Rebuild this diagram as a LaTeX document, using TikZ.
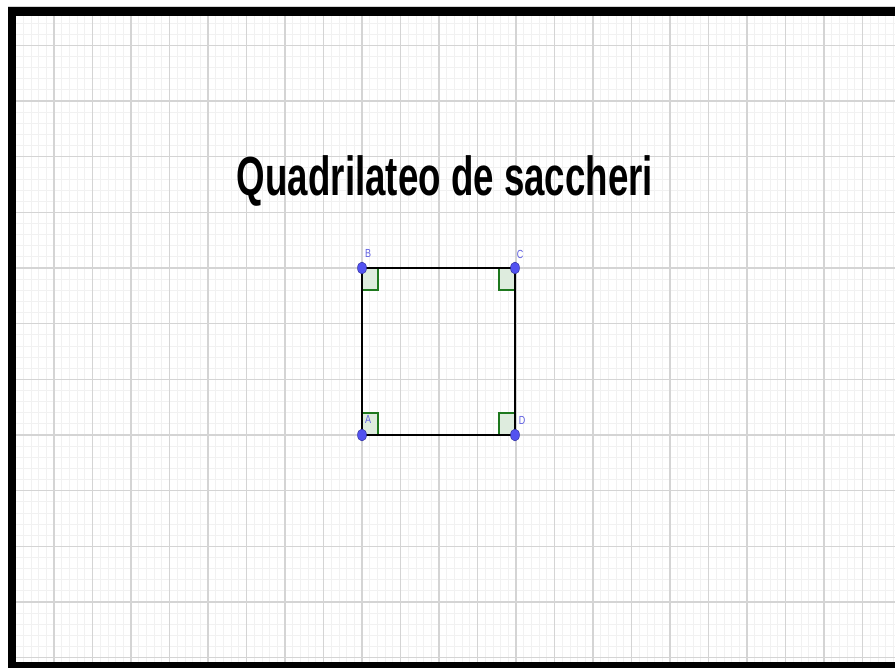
\documentclass[tikz,border=0pt]{standalone}
\usepackage{fontspec}
\setmainfont{Liberation Sans}
\usetikzlibrary{shapes.geometric}
\definecolor{minorgrid}{RGB}{241,241,241}
\definecolor{majorgrid}{RGB}{212,212,212}
\definecolor{ptblue}{RGB}{82,82,240}
\definecolor{ptedge}{RGB}{40,40,150}
\definecolor{lblblue}{RGB}{95,95,225}
\definecolor{angfill}{RGB}{222,236,222}
\definecolor{angedge}{RGB}{30,120,30}
\begin{document}
\begin{tikzpicture}[x=1pt,y=-1pt,
  minorline/.style={draw=minorgrid,line width=0.8pt},
  majorline/.style={draw=majorgrid,line width=1.1pt},
  frame/.style={fill=black},
  pt/.style={ellipse,fill=ptblue,draw=ptedge,line width=0.4pt,inner sep=0pt,minimum width=9pt,minimum height=12pt},
  lbl/.style={text=lblblue,inner sep=0pt,font=\fontsize{9}{10}\selectfont},
  side/.style={draw=black,line width=1.4pt},
  ang/.style={fill=angfill,draw=angedge,line width=1.1pt}]
\useasboundingbox (0,0) rectangle (895,668);
\fill[white] (0,0) rectangle (895,668);
% grid
\begin{scope}
\clip (15,16) rectangle (895,662);
\foreach \i in {0,...,116} {\draw[minorline] ({15.5+7.7*\i},0) -- ({15.5+7.7*\i},668);}
\foreach \j in {0,...,62} {\draw[minorline] (0,{-10.34+11.134*\j}) -- (895,{-10.34+11.134*\j});}
\foreach \i in {0,...,23} {\draw[majorline] ({15.5+38.5*\i},0) -- ({15.5+38.5*\i},668);}
\foreach \j in {0,...,12} {\draw[majorline] (0,{-10.34+55.67*\j}) -- (895,{-10.34+55.67*\j});}
\end{scope}
% frame
\draw[draw=majorgrid,line width=0.8pt] (8,6) -- (895,6);
\fill[frame] (8,7) rectangle (895,16);
\fill[frame] (8,7) rectangle (15.5,668);
\fill[frame] (8,662) rectangle (895,668);
% title
\node[anchor=base,inner sep=0pt] (title) at (445,196)
  {\scalebox{1}[1.5]{\fontsize{36.7}{40}\selectfont\bfseries Quadrilateo de saccheri}};
% right angle marks
\path[ang] (362,268) rectangle (378,290);
\path[ang] (515,268) rectangle (499,290);
\path[ang] (362,435) rectangle (378,413);
\path[ang] (515,435) rectangle (499,413);
% points
\coordinate (a) at (362,435);
\coordinate (b) at (362,268);
\coordinate (c) at (515,268);
\coordinate (d) at (515,435);
\draw[side] (a) -- (b) -- (c) -- (d) -- cycle;
\node[pt] (A) at (a) {};
\node[pt] (B) at (b) {};
\node[pt] (C) at (c) {};
\node[pt] (D) at (d) {};
\node[lbl] (lA) at (368,419) {\scalebox{1}[1.3]{A}};
\node[lbl] (lB) at (368,253) {\scalebox{1}[1.3]{B}};
\node[lbl] (lC) at (520,254) {\scalebox{1}[1.3]{C}};
\node[lbl] (lD) at (522,420) {\scalebox{1}[1.3]{D}};
\end{tikzpicture}
\end{document}
